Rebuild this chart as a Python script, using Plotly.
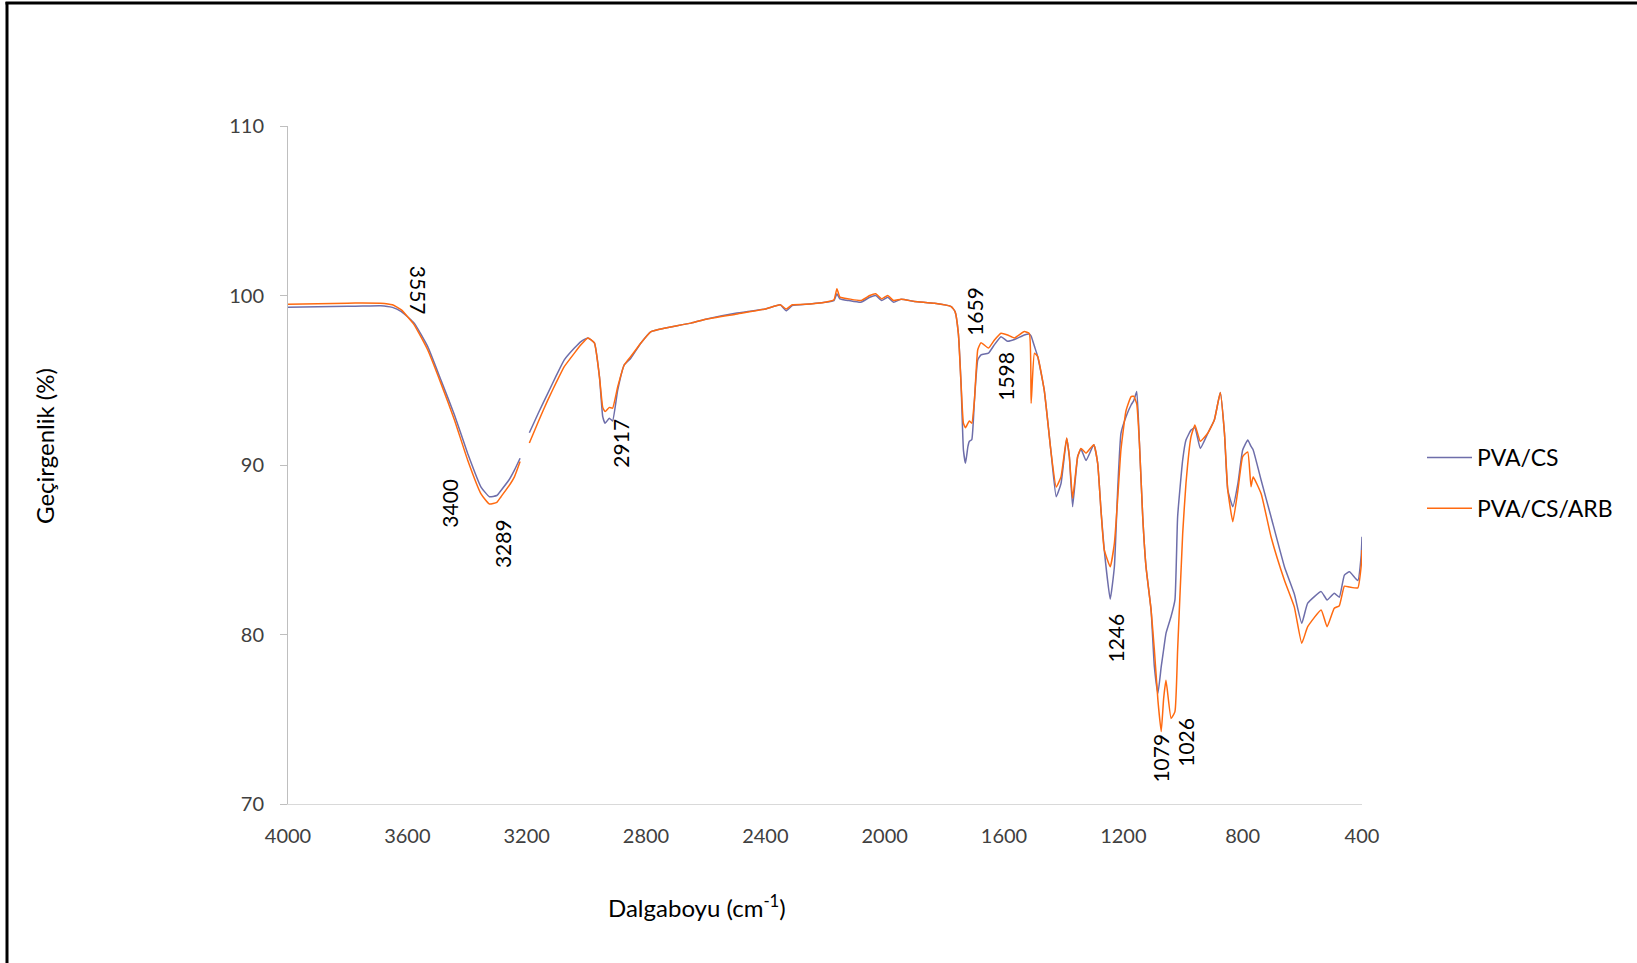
import plotly.graph_objects as go

# FTIR spectra: wavenumber (cm-1) and transmittance (%) for the two films
wavenumber = [
    4000, 3900, 3800, 3750, 3690, 3650, 3620, 3577, 3532, 3487, 3442, 3398, 3353, 3325,
    3300, 3286, 3260, 3241, 3222, 3205, 3191, 3160, 3130, 3100, 3074, 3040, 3018, 2995,
    2973, 2956, 2945, 2937, 2923, 2912, 2895, 2873, 2851, 2817, 2783, 2739, 2649, 2600,
    2500, 2400, 2350, 2330, 2310, 2250, 2200, 2170, 2160, 2150, 2120, 2080, 2050, 2030,
    2010, 1990, 1970, 1945, 1900, 1833, 1777, 1764, 1753, 1744, 1736, 1729, 1721, 1716,
    1708, 1699, 1688, 1677, 1652, 1632, 1610, 1588, 1565, 1532, 1515, 1509, 1498, 1487,
    1465, 1442, 1425, 1409, 1390, 1381, 1370, 1353, 1342, 1325, 1299, 1286, 1275, 1264,
    1244, 1230, 1219, 1208, 1191, 1174, 1165, 1155, 1146, 1135, 1124, 1107, 1096, 1084,
    1073, 1065, 1057, 1040, 1027, 1018, 1001, 990, 973, 960, 942, 917, 895, 875, 861,
    850, 833, 816, 800, 783, 772, 765, 738, 705, 660, 627, 602, 582, 537, 517, 493, 476,
    459, 442, 414, 403, 400,
]

pva_cs = [
    99.30, 99.33, 99.36, 99.38, 99.40, 99.30, 99.05, 98.37, 97.00, 95.00, 92.95, 90.70, 88.70, 88.13,
    88.20, 88.50, 89.10, 89.70, 90.40, None, 91.90, 93.10, 94.20, 95.30, 96.20, 96.90, 97.28, 97.50,
    97.20, 95.20, 92.85, 92.46, 92.76, 92.60, 94.40, 95.90, 96.30, 97.20, 97.87, 98.07, 98.37, 98.60,
    98.95, 99.20, 99.45, 99.10, 99.40, 99.50, 99.60, 99.70, 100.10, 99.80, 99.70, 99.60, 99.90, 100.00,
    99.70, 99.90, 99.60, 99.78, 99.65, 99.54, 99.35, 99.05, 97.77, 94.80, 90.88, 90.10, 91.08, 91.40,
    91.50, 93.84, 96.20, 96.50, 96.60, 97.10, 97.57, 97.30, 97.40, 97.67, 97.72, 97.60, 97.00, 96.40,
    94.40, 90.70, 88.13, 88.90, 91.57, 90.50, 87.54, 90.50, 90.94, 90.26, 91.20, 90.10, 87.35, 85.00,
    82.08, 84.00, 88.53, 91.87, 92.85, 93.54, 93.80, 94.33, 91.28, 86.95, 84.00, 81.45, 78.10, 76.53,
    78.10, 79.10, 80.07, 81.06, 82.04, 86.95, 90.30, 91.47, 92.06, 92.20, 90.98, 91.87, 92.65, 94.27, 91.87,
    88.53, 87.54, 88.90, 90.88, 91.47, 91.10, 90.90, 89.10, 86.95, 84.00, 82.40, 80.66, 81.85, 82.53, 82.04, 82.43, 82.20,
    83.50, 83.70, 83.18, 84.60, 85.77,
]

pva_cs_arb = [
    99.48, 99.52, 99.55, 99.56, 99.55, 99.45, 99.15, 98.27, 96.80, 94.80, 92.66, 90.30, 88.30, 87.70,
    87.80, 88.13, 88.75, 89.30, 90.20, None, 91.30, 92.60, 93.80, 94.90, 95.80, 96.60, 97.09, 97.50,
    97.20, 95.20, 93.40, 93.15, 93.40, 93.35, 94.60, 95.90, 96.40, 97.20, 97.87, 98.07, 98.37, 98.60,
    98.90, 99.20, 99.45, 99.20, 99.45, 99.50, 99.60, 99.75, 100.40, 99.90, 99.80, 99.70, 100.00, 100.10,
    99.80, 100.00, 99.70, 99.78, 99.65, 99.54, 99.35, 99.05, 97.77, 94.80, 92.46, 92.20, 92.46, 92.60,
    92.46, 93.84, 96.80, 97.22, 96.90, 97.37, 97.77, 97.67, 97.50, 97.87, 97.75, 93.64, 96.60, 96.40,
    94.40, 90.70, 88.70, 89.30, 91.60, 90.50, 88.04, 90.50, 90.98, 90.70, 91.20, 90.10, 87.35, 85.00,
    84.00, 85.38, 88.00, 90.90, 93.20, 94.03, 94.06, 93.60, 91.28, 86.95, 84.00, 81.45, 79.10, 76.10,
    74.27, 76.20, 77.30, 75.05, 75.45, 79.10, 85.97, 88.92, 91.67, 92.36, 91.40, 91.87, 92.65, 94.27, 91.87,
    88.53, 86.65, 88.50, 90.50, 90.77, 88.72, 89.30, 88.30, 85.77, 83.20, 81.63, 79.48, 80.46, 81.45, 80.46, 81.55, 81.70,
    82.85, 82.80, 82.75, 84.00, 84.99,
]

# Peak labels (wavenumber text, label anchor wavenumber, label anchor transmittance, rotation)
peak_text = ["3557", "3400", "3289", "2917", "1659", "1598", "1246", "1079", "1026"]
peak_x = [3560, 3459, 3280, 2886, 1697, 1593, 1227, 1076, 990]
peak_y = [100.32, 87.74, 85.38, 91.28, 99.04, 95.21, 79.78, 72.70, 73.67]
peak_angle = [90, -90, -90, -90, -90, -90, -90, -90, -90]

x_ticks = [4000, 3600, 3200, 2800, 2400, 2000, 1600, 1200, 800, 400]
y_ticks = [70, 80, 90, 100, 110]

FONT = "Lato, 'Open Sans', sans-serif"
W, H = 1637, 963
L, R, T, B = 288, 275, 126, 159
PW, PH = W - L - R, H - T - B


def px_x(px):
    return (px - L) / PW


def px_y(py):
    return (H - B - py) / PH


fig = go.Figure()
fig.add_trace(go.Scatter(
    x=wavenumber, y=pva_cs, mode="lines", name="PVA/CS",
    line=dict(color="#6E6EAA", width=1.5, shape="spline", smoothing=0.4),
    legendgroup="a", connectgaps=False,
))
fig.add_trace(go.Scatter(
    x=wavenumber, y=pva_cs_arb, mode="lines", name="PVA/CS/ARB",
    line=dict(color="#FF6A10", width=1.5, shape="spline", smoothing=0.4),
    legendgroup="b", connectgaps=False,
))

annotations = []
for t, x, y, a in zip(peak_text, peak_x, peak_y, peak_angle):
    annotations.append(dict(
        x=x, y=y, xref="x", yref="y", text=t, showarrow=False, textangle=a,
        xanchor="center", yanchor="middle",
        font=dict(family=FONT, size=21, color="#000000"),
    ))

annotations.append(dict(
    x=px_x(44), y=px_y(446), xref="paper", yref="paper", text="Geçirgenlik (%)",
    xanchor="center", yanchor="middle",
    showarrow=False, textangle=-90, font=dict(family=FONT, size=24, color="#000000"),
))
annotations.append(dict(
    x=px_x(697), y=px_y(906), xref="paper", yref="paper", text="Dalgaboyu (cm<sup>-1</sup>)",
    xanchor="center", yanchor="middle",
    showarrow=False, font=dict(family=FONT, size=24, color="#000000"),
))

shapes = [
    dict(type="line", xref="paper", yref="paper", x0=px_x(7), x1=px_x(7),
         y0=px_y(H + 5), y1=px_y(2), line=dict(color="#000000", width=3)),
    dict(type="line", xref="paper", yref="paper", x0=px_x(5.5), x1=px_x(W + 5),
         y0=px_y(3), y1=px_y(3), line=dict(color="#000000", width=3)),
]

fig.update_layout(
    width=W, height=H,
    margin=dict(l=L, r=R, t=T, b=B),
    paper_bgcolor="#FFFFFF", plot_bgcolor="#FFFFFF",
    font=dict(family=FONT, size=20, color="#404040"),
    showlegend=True,
    legend=dict(
        x=px_x(1422), y=px_y(436), xanchor="left", yanchor="top",
        font=dict(family=FONT, size=23, color="#000000"),
        tracegroupgap=18, itemwidth=45, bgcolor="rgba(0,0,0,0)",
    ),
    annotations=annotations,
    shapes=shapes,
)

fig.update_xaxes(
    range=[4000, 400], tickvals=x_ticks, ticktext=[str(v) for v in x_ticks],
    showgrid=False, zeroline=False, showline=True, linecolor="#D9D9D9", linewidth=1,
    ticks="", ticklabelstandoff=14, tickfont=dict(family=FONT, size=20, color="#404040"),
)
fig.update_yaxes(
    range=[70, 110], tickvals=y_ticks, ticktext=[str(v) for v in y_ticks],
    showgrid=False, zeroline=False, showline=True, linecolor="#BFBFBF", linewidth=1,
    ticks="outside", ticklen=7, tickcolor="#BFBFBF", ticklabelstandoff=12,
    tickfont=dict(family=FONT, size=20, color="#404040"),
)

fig.write_html("out.html")
